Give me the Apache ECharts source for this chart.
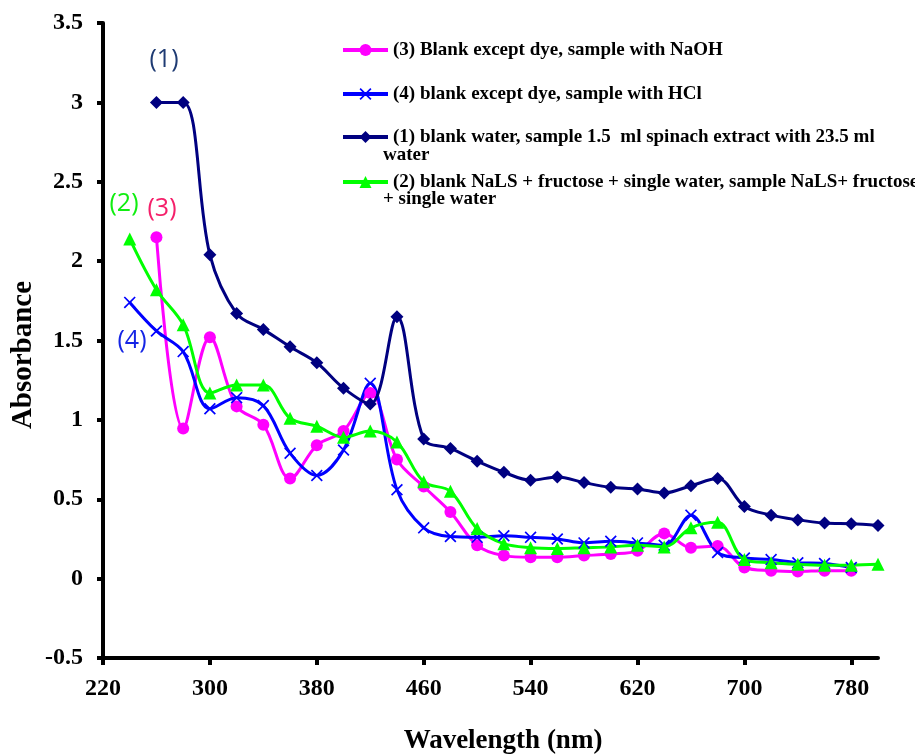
<!DOCTYPE html>
<html>
<head>
<meta charset="utf-8">
<script src="https://cdn.jsdelivr.net/npm/echarts@6/dist/echarts.min.js"></script>
<style>
  html, body { margin: 0; padding: 0; background: #fff; }
  #grafico { width: 915px; height: 756px; }
</style>
</head>
<body>
<div id="grafico"></div>
<script>
// wavelengths (nm)
const wl260to800 = [260, 280, 300, 320, 340, 360, 380, 400, 420, 440, 460, 480, 500, 520,
  540, 560, 580, 600, 620, 640, 660, 680, 700, 720, 740, 760, 780, 800]
const wl260to780 = wl260to800.slice(0, -1)
const wl240to780 = [240].concat(wl260to780)
const wl240to800 = [240].concat(wl260to800)

// (1) blank water, sample spinach extract
const abs1 = [3.0, 3.0, 2.04, 1.67, 1.57, 1.46, 1.36, 1.20, 1.10, 1.65, 0.88, 0.82, 0.74, 0.67,
  0.62, 0.64, 0.605, 0.575, 0.565, 0.54, 0.585, 0.63, 0.455, 0.40, 0.37, 0.35, 0.345, 0.335]
// (2) blank NaLS + fructose
const abs2 = [2.14, 1.82, 1.60, 1.17, 1.22, 1.22, 1.01, 0.96, 0.89, 0.93, 0.86, 0.61, 0.55, 0.315,
  0.22, 0.195, 0.19, 0.195, 0.20, 0.21, 0.20, 0.32, 0.355, 0.12, 0.10, 0.09, 0.085, 0.085, 0.09]
// (3) NaOH
const abs3 = [2.15, 0.945, 1.52, 1.085, 0.97, 0.63, 0.84, 0.93, 1.17, 0.75, 0.58, 0.42, 0.21,
  0.145, 0.135, 0.135, 0.145, 0.155, 0.175, 0.285, 0.195, 0.205, 0.07, 0.05, 0.045, 0.05, 0.05]
// (4) HCl
const abs4 = [1.74, 1.56, 1.43, 1.07, 1.14, 1.09, 0.79, 0.65, 0.81, 1.23, 0.56, 0.32, 0.265, 0.26,
  0.27, 0.26, 0.25, 0.225, 0.235, 0.225, 0.21, 0.40, 0.165, 0.13, 0.12, 0.10, 0.095, 0.07]

const xTicks = [220, 300, 380, 460, 540, 620, 700, 780]

const nombres = {
  s3: '(3) Blank except dye, sample with NaOH',
  s4: '(4) blank except dye, sample with HCl',
  s1: '(1) blank water, sample 1.5  ml spinach extract with 23.5 ml',
  s2: '(2) blank NaLS + fructose + single water, sample NaLS+ fructose'
}

const pares = (xs, ys) => xs.map((x, i) => [x, ys[i]])
const cruz = 'path://M0,1L1,0L5,4L9,0L10,1L6,5L10,9L9,10L5,6L1,10L0,9L4,5Z'
const serif = 'Liberation Serif'
const sans = 'Open Sans'

const leyenda = (nombre, top) => ({
  data: [nombre],
  left: 336,
  top: top,
  orient: 'vertical',
  itemWidth: 45,
  itemHeight: 15,
  selectedMode: false,
  lineStyle: { width: 4 },
  textStyle: { fontFamily: serif, fontWeight: 'bold', fontSize: 19, color: '#000', lineHeight: 22 }
})

const texto = (txt, x, y, font, color) => ({
  type: 'text', x: x, y: y, silent: true,
  style: { text: txt, fill: color, font: font, align: 'left', verticalAlign: 'middle' }
})

const etiqueta = (txt, x, y, color) => {
  const t = texto(txt, x, y, '25px "' + sans + '"', color)
  t.style.align = 'center'
  return t
}

const myChart = echarts.init(document.getElementById('grafico'))

const option = {
  animation: false,
  backgroundColor: '#fff',
  grid: { left: 103, right: 37, top: 23, bottom: 98, containLabel: false, outerBoundsMode: 'none' },
  legend: [
    leyenda(nombres.s3, 34),
    leyenda(nombres.s4, 78),
    leyenda(nombres.s1, 121),
    leyenda(nombres.s2, 166)
  ],
  graphic: [
    texto('water', 383, 155, 'bold 19px "' + serif + '"', '#000'),
    texto('+ single water', 383, 199, 'bold 19px "' + serif + '"', '#000'),
    {
      type: 'text', x: 24, y: 355, rotation: Math.PI / 2, silent: true,
      style: { text: 'Absorbance', fill: '#000', font: 'bold 29px "' + serif + '"',
        align: 'center', verticalAlign: 'middle' }
    },
    {
      type: 'text', x: 503, y: 741, silent: true,
      style: { text: 'Wavelength (nm)', fill: '#000', font: 'bold 27px "' + serif + '"',
        align: 'center', verticalAlign: 'middle' }
    },
    etiqueta('(1)', 164, 60, '#1F3B73'),
    etiqueta('(2)', 124, 204, '#11EE11'),
    etiqueta('(3)', 162, 209, '#F5206A'),
    etiqueta('(4)', 132, 341, '#1525E5')
  ],
  xAxis: {
    type: 'value',
    min: 220,
    max: 800,
    axisLine: { onZero: false, lineStyle: { color: '#000', width: 4 } },
    axisTick: { customValues: xTicks, length: 7, lineStyle: { color: '#000', width: 4 } },
    axisLabel: { customValues: xTicks, margin: 19, fontFamily: serif, fontWeight: 'bold', fontSize: 24, color: '#000' },
    splitLine: { show: false }
  },
  yAxis: {
    type: 'value',
    min: -0.5,
    max: 3.5,
    interval: 0.5,
    axisLine: { show: true, onZero: false, lineStyle: { color: '#000', width: 4 } },
    axisTick: { show: true, length: 6, lineStyle: { color: '#000', width: 4 } },
    axisLabel: { margin: 20, fontFamily: serif, fontWeight: 'bold', fontSize: 24, color: '#000' },
    splitLine: { show: false }
  },
  series: [
    {
      name: nombres.s3, type: 'line', smooth: 0.35, data: pares(wl260to780, abs3),
      symbol: 'circle', symbolSize: 12,
      lineStyle: { color: '#FF00FF', width: 3 }, itemStyle: { color: '#FF00FF' }
    },
    {
      name: nombres.s4, type: 'line', smooth: 0.35, data: pares(wl240to780, abs4),
      symbol: cruz, symbolSize: 12,
      lineStyle: { color: '#0000FF', width: 3 }, itemStyle: { color: '#0000FF' }
    },
    {
      name: nombres.s2, type: 'line', smooth: 0.35, data: pares(wl240to800, abs2),
      symbol: 'triangle', symbolSize: 13,
      lineStyle: { color: '#00FF00', width: 3 }, itemStyle: { color: '#00FF00' }
    },
    {
      name: nombres.s1, type: 'line', smooth: 0.35, data: pares(wl260to800, abs1),
      symbol: 'diamond', symbolSize: [13, 13],
      lineStyle: { color: '#000080', width: 3 }, itemStyle: { color: '#000080' }
    }
  ]
}

myChart.setOption(option)
</script>
</body>
</html>
